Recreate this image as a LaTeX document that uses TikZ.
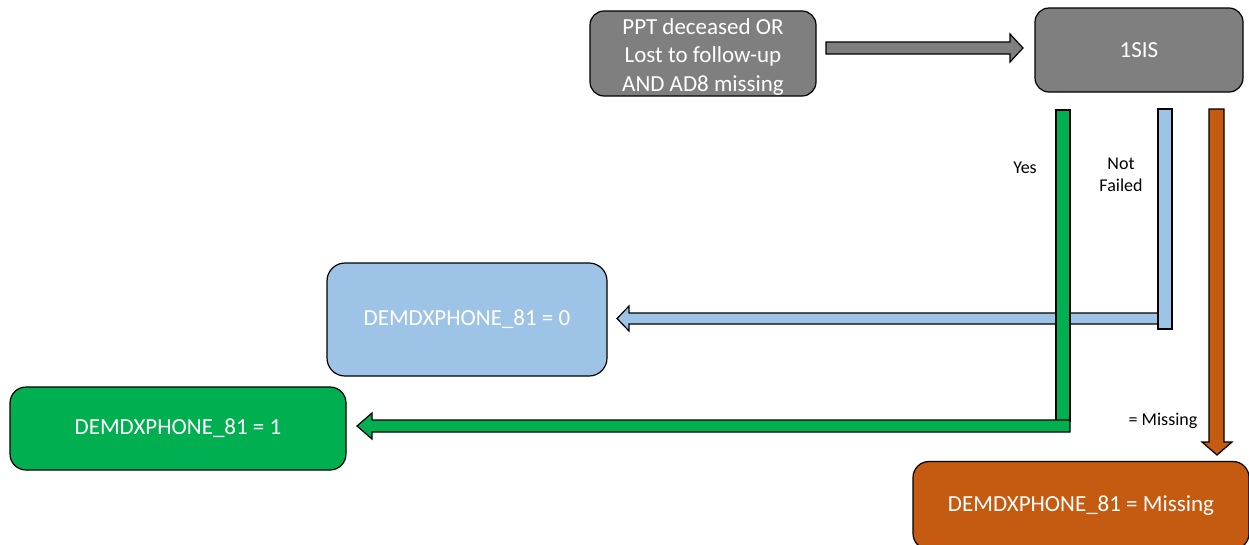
\documentclass[tikz,border=0pt]{standalone}
\usepackage{fontspec}
\setmainfont{Carlito}
\definecolor{cgray}{HTML}{7F7F7F}
\definecolor{cblue}{HTML}{9DC3E6}
\definecolor{cgreen}{HTML}{00B050}
\definecolor{corange}{HTML}{C55A11}
\begin{document}
\begin{tikzpicture}[x=1pt,y=-1pt,
  box/.style={draw=black,line width=1.2pt,rounded corners=14pt,text=white,
    font=\fontsize{23}{28.5}\selectfont,align=center,inner sep=0pt},
  boxtext/.style={text=white,font=\fontsize{23}{28.5}\selectfont,align=center,inner sep=0pt},
  blk/.style={draw=black,line width=1.2pt,line join=miter},
  lbl/.style={font=\fontsize{18}{22}\selectfont,align=center,text=black,inner sep=0pt}]
\useasboundingbox (0,0) rectangle (1249,544);
\clip (0,0) rectangle (1249,544);
\fill[white] (0,0) rectangle (1249,544);
% boxes
\node[box,fill=cgray,minimum width=226pt,minimum height=85pt] (ppt) at (703,53.5) {};
\node[boxtext] (ppttext) at (703,56.5) {PPT deceased OR\\Lost to follow-up\\AND AD8 missing};
\node[box,fill=cgray,minimum width=208pt,minimum height=84pt] (sis) at (1139,50) {1SIS};
\node[box,fill=cblue,minimum width=280pt,minimum height=113pt,rounded corners=18pt] (zero) at (467,319.5) {DEMDXPHONE\_81 = 0};
\node[box,fill=cgreen,minimum width=336pt,minimum height=83pt,rounded corners=16pt] (one) at (178,428.5) {DEMDXPHONE\_81 = 1};
\node[box,fill=corange,minimum width=336pt,minimum height=88pt,rounded corners=16pt] (miss) at (1081,505.5) {DEMDXPHONE\_81 = Missing};
% gray block arrow
\draw[blk,fill=cgray] (826,42) -- (1010,42) -- (1010,34) -- (1023,48) -- (1010,62) -- (1010,54) -- (826,54) -- cycle;
% blue: Not Failed
\draw[blk,fill=cblue] (1158,313) -- (629,313) -- (629,306) -- (617,318.5) -- (629,331) -- (629,324) -- (1158,324) -- cycle;
\draw[blk,fill=cblue] (1158,109) rectangle (1172,329);
% green: Yes
\draw[blk,fill=cgreen] (1056,110) rectangle (1070,421);
\draw[blk,fill=cgreen] (1070,420) -- (372,420) -- (372,413) -- (357,426) -- (372,439) -- (372,432) -- (1070,432) -- cycle;
% orange: Missing
\draw[blk,fill=corange] (1209,109) -- (1224,109) -- (1224,442) -- (1232,442) -- (1217,455) -- (1202,442) -- (1209,442) -- cycle;
% labels
\node[lbl] (yes) at (1025,168) {Yes};
\node[lbl] (notf) at (1121,175) {Not\\Failed};
\node[lbl] (eqm) at (1163,421) {= Missing};
\end{tikzpicture}
\end{document}
